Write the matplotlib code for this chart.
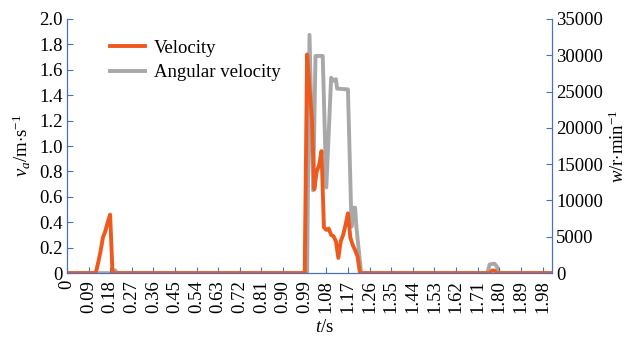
import matplotlib
matplotlib.use("Agg")
import matplotlib.pyplot as plt

plt.rcParams['font.family'] = 'Liberation Serif'
plt.rcParams['mathtext.fontset'] = 'custom'
plt.rcParams['mathtext.rm'] = 'Liberation Serif'
plt.rcParams['mathtext.it'] = 'Liberation Serif:italic'

# velocity (m/s)
vel_t = [0, 0.12, 0.13, 0.14, 0.15, 0.16, 0.17, 0.18, 0.19, 0.99,
         1.00, 1.01, 1.02, 1.03, 1.04, 1.05, 1.06, 1.07, 1.08, 1.09,
         1.10, 1.11, 1.12, 1.13, 1.14, 1.15, 1.16, 1.17, 1.18, 1.19,
         1.20, 1.21, 1.22, 1.76, 1.77, 1.78, 1.79, 2.02]
vel = [0, 0, 0.08, 0.17, 0.28, 0.33, 0.40, 0.46, 0, 0,
       1.72, 1.45, 1.22, 0.66, 0.80, 0.85, 0.96, 0.36, 0.34, 0.35,
       0.30, 0.29, 0.25, 0.12, 0.25, 0.30, 0.38, 0.47, 0.28, 0.22,
       0.18, 0.13, 0, 0, 0.02, 0.02, 0, 0]

# angular velocity (r/min)
ang_t = [0, 0.19, 0.20, 0.21, 0.99, 1.00, 1.01, 1.025, 1.035, 1.065,
         1.08, 1.10, 1.11, 1.12, 1.125, 1.17, 1.185, 1.195, 1.20, 1.205,
         1.225, 1.75, 1.76, 1.78, 1.79, 1.80, 2.02]
ang = [0, 0, 400, 0, 0, 0, 32800, 11400, 29900, 29900,
       11800, 26900, 26500, 26700, 25400, 25300, 6400, 9000, 9000, 6400,
       0, 0, 1200, 1300, 900, 0, 0]

xticks = [i * 0.09 for i in range(23)]
xlabels = ['0'] + ['%.2f' % v for v in xticks[1:]]

orange = '#EE5A1E'
grey = '#A8A8A8'
blue = '#4472C4'
fs = 13.5

fig = plt.figure(figsize=(6.31, 3.38), dpi=100)
ax = fig.add_axes([0.106, 0.192, 0.769, 0.752])
ax2 = ax.twinx()
ax.set_zorder(ax2.get_zorder() + 1)
ax.patch.set_visible(False)

l2, = ax2.plot(ang_t, ang, color=grey, lw=2.8, label='Angular velocity')
l1, = ax.plot(vel_t, vel, color=orange, lw=2.8, label='Velocity')

ax.set_xlim(0, 2.02)
ax.set_ylim(0, 2.0)
ax2.set_ylim(0, 35000)
ax.set_xticks(xticks)
ax.set_xticklabels(xlabels, rotation=90)
ax.set_yticks([i * 0.2 for i in range(11)])
ax.set_yticklabels(['0'] + ['%.1f' % (i * 0.2) for i in range(1, 11)])
ax2.set_yticks(range(0, 35001, 5000))

for a in (ax, ax2):
    for s in a.spines.values():
        s.set_color(blue)
    a.spines['top'].set_visible(False)
    a.tick_params(direction='in', color=blue, length=4, labelsize=fs, pad=3)
ax.tick_params(axis='x', pad=5)

ax.set_xlabel('$t$/s', fontsize=fs)
ax.set_ylabel('$v_a$/m$\\cdot$s$^{-1}$', fontsize=fs)
ax2.set_ylabel('$w$/r$\\cdot$min$^{-1}$', fontsize=fs)
ax.xaxis.set_label_coords(0.53, -0.18)
ax.yaxis.set_label_coords(-0.07, 0.5)

ax.legend([l1, l2], ['Velocity', 'Angular velocity'], loc='upper left',
          bbox_to_anchor=(0.055, 0.985), frameon=False, fontsize=fs,
          handlelength=1.85, handletextpad=0.45, labelspacing=0.4)

fig.savefig('out.png', dpi=100)
